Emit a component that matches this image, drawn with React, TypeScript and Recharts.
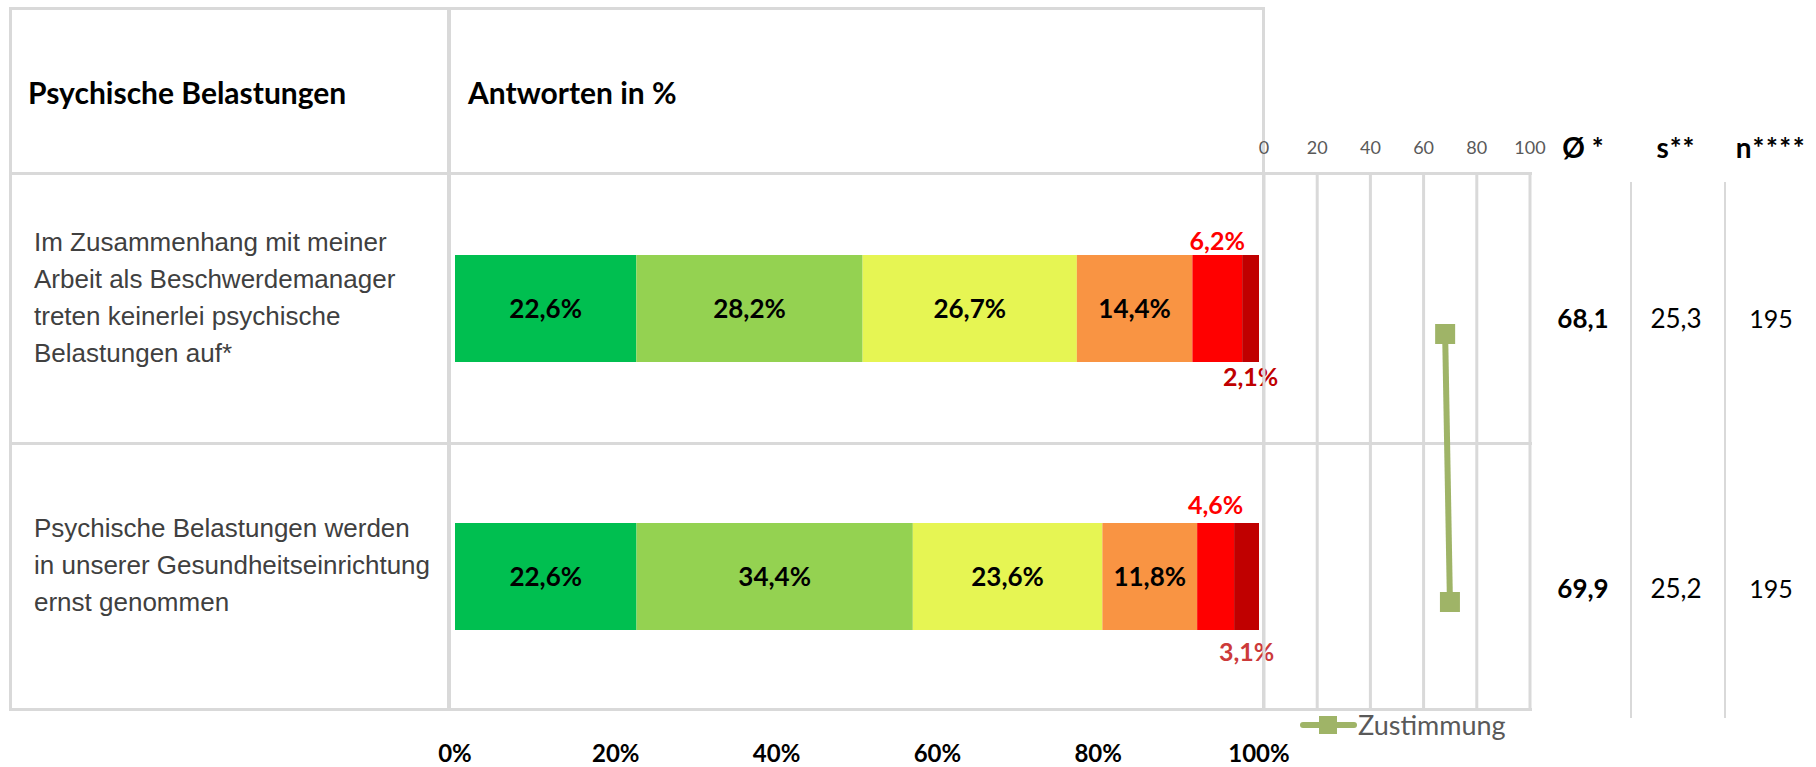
import React from "react";
import {
  BarChart,
  Bar,
  XAxis,
  YAxis,
  LabelList,
  LineChart,
  Line,
  CartesianGrid,
  Legend,
} from "recharts";

// questions (row labels, line breaks as in the original)
const questions = [
  "Im Zusammenhang mit meiner\nArbeit als Beschwerdemanager\ntreten keinerlei psychische\nBelastungen auf*",
  "Psychische Belastungen werden\nin unserer Gesundheitseinrichtung\nernst genommen",
];

// answer shares in %
const stimmeVoll = [22.6, 22.6];
const stimmeEher = [28.2, 34.4];
const teilsTeils = [26.7, 23.6];
const eherNicht = [14.4, 11.8];
const nicht = [6.2, 4.6];
const garNicht = [2.1, 3.1];

// stats columns
const zustimmung = [68.1, 69.9];
const streuung = [25.3, 25.2];
const anzahl = [195, 195];

const percentTicks = [0, 0.2, 0.4, 0.6, 0.8, 1];
const lineTicks = [0, 20, 40, 60, 80, 100];

const CAL = "Lato, 'Open Sans', sans-serif";
const ARIAL = "'Liberation Sans', Arial, sans-serif";
const GRID = "#D9D9D9";
const OLIVE = "#9FB467";

const segments = [
  { key: "s1", values: stimmeVoll, color: "#00BF50" },
  { key: "s2", values: stimmeEher, color: "#94D251" },
  { key: "s3", values: teilsTeils, color: "#E6F553" },
  { key: "s4", values: eherNicht, color: "#F99443" },
  { key: "s5", values: nicht, color: "#FF0000" },
  { key: "s6", values: garNicht, color: "#C00000" },
];
// outside label styling per row
const redLabelOffsets = [5, 9];
const darkLabelOffsets = [6, 13];
const darkLabelColors = ["#C00000", "#CC3A3A"];

const barData = questions.map((q, i) => {
  const row: any = { q };
  segments.forEach((s) => (row[s.key] = s.values[i]));
  return row;
});

const lineData = questions.map((q, i) => ({ q, z: zustimmung[i] }));

const fmt = (v: number) => v.toFixed(1).replace(".", ",") + "%";
const fmtNum = (v: number) => v.toFixed(1).replace(".", ",");

function QuestionTick(props: any) {
  const { y, payload } = props;
  const lines = String(payload.value).split("\n");
  const lh = 37;
  const first = y - 2 - ((lines.length - 1) * lh) / 2;
  return (
    <text x={24} y={first} fill="#404040" fontFamily={ARIAL} fontSize={26}>
      {lines.map((l, i) => (
        <tspan key={i} x={24} y={first + i * lh}>
          {l}
        </tspan>
      ))}
    </text>
  );
}

function RedLabel(props: any) {
  const vb = props.viewBox || props;
  const idx = props.index ?? 0;
  const x = vb.x + vb.width / 2;
  const y = vb.y - (redLabelOffsets[idx] ?? 8);
  return (
    <text x={x} y={y} textAnchor="middle" fill="#FF0000" fontFamily={CAL} fontWeight={700} fontSize={25}>
      {fmt(Number(props.value))}
    </text>
  );
}

function DarkRedLabel(props: any) {
  const vb = props.viewBox || props;
  const idx = props.index ?? 0;
  const x = vb.x + vb.width / 2;
  const y = vb.y + vb.height + (darkLabelOffsets[idx] ?? 9);
  return (
    <text
      x={x}
      y={y}
      dy="0.71em"
      textAnchor="middle"
      fill={darkLabelColors[idx] ?? "#C00000"}
      fontFamily={CAL}
      fontWeight={700}
      fontSize={25}
    >
      {fmt(Number(props.value))}
    </text>
  );
}

function SquareDot(props: any) {
  const { cx, cy } = props;
  if (cx == null || cy == null) return null;
  return <rect x={cx - 10} y={cy - 10} width={20} height={20} fill={OLIVE} />;
}

function ZustimmungLegend(props: any) {
  const item = (props.payload || []).find((p: any) => p.value === "Zustimmung") || props.payload?.[0];
  return (
    <div style={{ display: "flex", alignItems: "center", height: 30 }}>
      <svg width={57} height={20}>
        <line x1={3} y1={10} x2={54} y2={10} stroke={OLIVE} strokeWidth={6} strokeLinecap="round" />
        <rect x={19} y={1} width={18} height={18} fill={OLIVE} />
      </svg>
      <span style={{ fontFamily: CAL, fontSize: 27, color: "#595959", lineHeight: "30px", marginLeft: 1 }}>
        {item?.value ?? "Zustimmung"}
      </span>
    </div>
  );
}

const hLine = (left: number, top: number, width: number, h = 3) => (
  <div style={{ position: "absolute", left, top, width, height: h, background: GRID }} />
);
const vLine = (left: number, top: number, height: number, w = 3) => (
  <div style={{ position: "absolute", left, top, width: w, height, background: GRID }} />
);

const cellText = (cx: number, cy: number, text: string, bold: boolean, size: number, spacing = 0) => (
  <div
    style={{
      position: "absolute",
      left: cx - 60,
      width: 120,
      top: cy - 15,
      height: 30,
      lineHeight: "30px",
      textAlign: "center",
      fontFamily: CAL,
      fontSize: size,
      fontWeight: bold ? 700 : 400,
      letterSpacing: spacing,
      color: "#000",
    }}
  >
    {text}
  </div>
);

export default function App() {
  const rowY = [318, 588];
  return (
    <div style={{ position: "fixed", left: 0, top: 0, width: 1816, height: 767, background: "#fff", overflow: "hidden" }}>
      {/* table frame */}
      {hLine(9, 7, 1256)}
      {vLine(9, 7, 704)}
      {vLine(447, 7, 704, 4)}
      {vLine(1262, 7, 704)}
      {hLine(9, 172, 1523)}
      {hLine(9, 442, 1523)}
      {hLine(9, 708, 1523)}
      {vLine(1630, 182, 536, 2)}
      {vLine(1724, 182, 536, 2)}

      <div style={{ position: "absolute", left: 28, top: 74, lineHeight: "36px", fontFamily: CAL, fontSize: 30, fontWeight: 700, color: "#000" }}>
        Psychische Belastungen
      </div>
      <div style={{ position: "absolute", left: 468, top: 74, lineHeight: "36px", fontFamily: CAL, fontSize: 30, fontWeight: 700, color: "#000" }}>
        Antworten in %
      </div>

      {/* stacked bars */}
      <div style={{ position: "absolute", left: 10, top: 174 }}>
        <BarChart
          width={1300}
          height={593}
          data={barData}
          layout="vertical"
          stackOffset="expand"
          barSize={107}
          margin={{ top: 0, right: 51, bottom: 0, left: 0 }}
        >
          <XAxis
            type="number"
            domain={[0, 1]}
            ticks={percentTicks}
            interval={0}
            tickFormatter={(v: number) => `${Math.round(v * 100)}%`}
            axisLine={false}
            tickLine={false}
            tickMargin={29}
            height={57}
            tick={{ fontFamily: CAL, fontWeight: 700, fontSize: 24, fill: "#000" }}
          />
          <YAxis type="category" dataKey="q" width={445} axisLine={false} tickLine={false} tick={<QuestionTick />} />
          {segments.map((s, i) => (
            <Bar key={s.key} dataKey={s.key} stackId="a" fill={s.color} isAnimationActive={false}>
              {i < 4 && (
                <LabelList
                  dataKey={s.key}
                  position="center"
                  formatter={(v: any) => fmt(Number(v))}
                  fill="#000"
                  fontFamily={CAL}
                  fontWeight={700}
                  fontSize={26}
                />
              )}
              {i === 4 && <LabelList dataKey={s.key} content={<RedLabel />} />}
              {i === 5 && <LabelList dataKey={s.key} content={<DarkRedLabel />} />}
            </Bar>
          ))}
        </BarChart>
      </div>

      {/* mean chart: grid, scale, line, legend */}
      <div style={{ position: "absolute", left: 1244, top: 134 }}>
        <LineChart width={306} height={616} data={lineData} layout="vertical" margin={{ top: 0, right: 20, bottom: 0, left: 20 }}>
          <CartesianGrid horizontal={false} stroke={GRID} strokeWidth={3} />
          <XAxis
            type="number"
            orientation="top"
            domain={[0, 100]}
            ticks={lineTicks}
            interval={0}
            height={40}
            axisLine={false}
            tickLine={false}
            tickMargin={14}
            tick={{ fontFamily: CAL, fontSize: 18, fill: "#595959" }}
          />
          <YAxis type="category" dataKey="q" hide padding={{ top: 160, bottom: 108 }} />
          <Legend
            verticalAlign="bottom"
            height={40}
            content={<ZustimmungLegend />}
            wrapperStyle={{ left: 56, width: 240 }}
          />
          <Line
            dataKey="z"
            name="Zustimmung"
            stroke={OLIVE}
            strokeWidth={6}
            dot={<SquareDot />}
            isAnimationActive={false}
          />
        </LineChart>
      </div>

      {/* stats columns */}
      {cellText(1583, 147, "Ø *", true, 28)}
      {cellText(1676, 147, "s**", true, 28, 1)}
      {cellText(1771, 147, "n****", true, 28, 1.5)}
      {zustimmung.map((v, i) => (
        <React.Fragment key={i}>
          {cellText(1583, rowY[i], fmtNum(v), true, 26)}
          {cellText(1676, rowY[i], fmtNum(streuung[i]), false, 26)}
          {cellText(1771, rowY[i], String(anzahl[i]), false, 25)}
        </React.Fragment>
      ))}
    </div>
  );
}
